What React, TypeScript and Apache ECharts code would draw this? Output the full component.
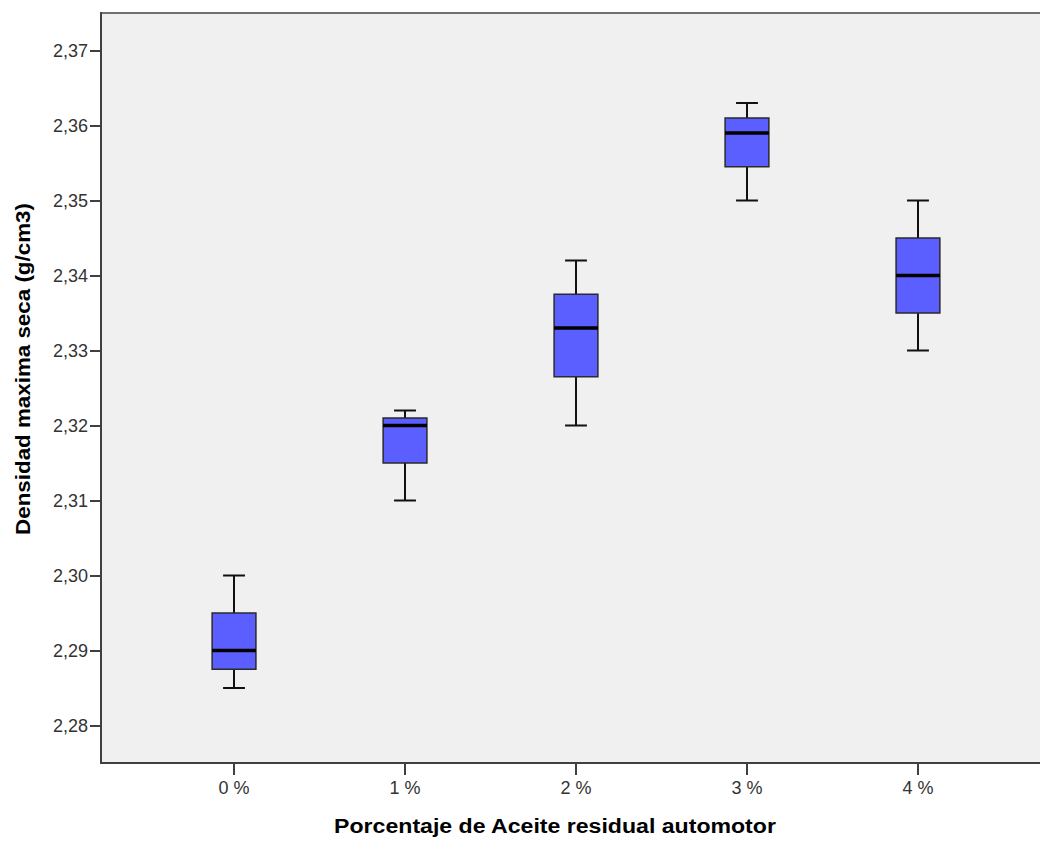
import React, { useEffect, useRef } from 'react';
import * as echarts from 'echarts';

const categories = ['0 %', '1 %', '2 %', '3 %', '4 %'];
const minValues = [2.285, 2.31, 2.32, 2.35, 2.33];
const q1Values = [2.2875, 2.315, 2.3265, 2.3545, 2.335];
const medianValues = [2.29, 2.32, 2.333, 2.359, 2.34];
const q3Values = [2.295, 2.321, 2.3375, 2.361, 2.345];
const maxValues = [2.3, 2.322, 2.342, 2.363, 2.35];
const yTicks = [2.28, 2.29, 2.3, 2.31, 2.32, 2.33, 2.34, 2.35, 2.36, 2.37];
const xTitle = 'Porcentaje de Aceite residual automotor';
const yTitle = 'Densidad maxima seca (g/cm3)';

const FONT = '"Liberation Sans", Arial, sans-serif';

export default function App() {
  const ref = useRef<HTMLDivElement>(null);

  useEffect(() => {
    if (!ref.current) return;
    const chart = echarts.init(ref.current, undefined, { renderer: 'svg' });
    const data = categories.map((_, i) => [
      i,
      minValues[i],
      q1Values[i],
      medianValues[i],
      q3Values[i],
      maxValues[i],
    ]);

    const option: any = {
      animation: false,
      backgroundColor: '#ffffff',
      grid: {
        left: 101,
        top: 13,
        right: -11,
        bottom: 80,
        show: true,
        backgroundColor: '#f0f0f0',
        borderColor: '#707070',
        borderWidth: 2,
        containLabel: false,
        outerBoundsMode: 'none',
      },
      xAxis: {
        type: 'value',
        min: -0.778,
        max: 4.778,
        splitLine: { show: false },
        axisLine: { show: true, onZero: false, lineStyle: { color: '#404040', width: 2 } },
        axisTick: {
          show: true,
          length: 12,
          customValues: [0, 1, 2, 3, 4],
          lineStyle: { color: '#404040', width: 2 },
        },
        axisLabel: {
          show: true,
          customValues: [0, 1, 2, 3, 4],
          margin: 16,
          fontSize: 18,
          fontFamily: FONT,
          color: '#333333',
          formatter: (v: number) => categories[Math.round(v)] ?? '',
        },
      },
      yAxis: {
        type: 'value',
        min: 2.275,
        max: 2.375,
        splitLine: { show: false },
        axisLine: { show: true, onZero: false, lineStyle: { color: '#404040', width: 2 } },
        axisTick: {
          show: true,
          length: 11,
          customValues: yTicks,
          lineStyle: { color: '#404040', width: 2 },
        },
        axisLabel: {
          show: true,
          customValues: yTicks,
          margin: 13,
          fontSize: 18,
          fontFamily: FONT,
          color: '#333333',
          formatter: (v: number) => v.toFixed(2).replace('.', ','),
        },
      },
      series: [
        {
          type: 'custom',
          data,
          encode: { x: 0, y: [1, 2, 3, 4, 5] },
          renderItem: (params: any, api: any) => {
            const i = api.value(0);
            const pMin = api.coord([i, api.value(1)]);
            const pQ1 = api.coord([i, api.value(2)]);
            const pMed = api.coord([i, api.value(3)]);
            const pQ3 = api.coord([i, api.value(4)]);
            const pMax = api.coord([i, api.value(5)]);
            const cx = pMin[0];
            const boxW = api.size([0.256, 0])[0];
            const capW = boxW / 2;
            const lineStyle = { stroke: '#111111', lineWidth: 2 };
            return {
              type: 'group',
              children: [
                { type: 'line', shape: { x1: cx, y1: pMax[1], x2: cx, y2: pQ3[1] }, style: lineStyle },
                { type: 'line', shape: { x1: cx, y1: pQ1[1], x2: cx, y2: pMin[1] }, style: lineStyle },
                { type: 'line', shape: { x1: cx - capW / 2, y1: pMax[1], x2: cx + capW / 2, y2: pMax[1] }, style: lineStyle },
                { type: 'line', shape: { x1: cx - capW / 2, y1: pMin[1], x2: cx + capW / 2, y2: pMin[1] }, style: lineStyle },
                {
                  type: 'rect',
                  shape: { x: cx - boxW / 2, y: pQ3[1], width: boxW, height: pQ1[1] - pQ3[1] },
                  style: { fill: '#5b5fff', stroke: '#2a2a2a', lineWidth: 1.5 },
                },
                {
                  type: 'line',
                  shape: { x1: cx - boxW / 2, y1: pMed[1], x2: cx + boxW / 2, y2: pMed[1] },
                  style: { stroke: '#000000', lineWidth: 3.5 },
                },
              ],
            };
          },
        },
      ],
      graphic: [
        {
          type: 'text',
          x: 555,
          y: 826,
          scaleX: 1.1,
          style: {
            text: xTitle,
            font: `bold 21px ${FONT}`,
            fill: '#000000',
            textAlign: 'center',
            textVerticalAlign: 'middle',
            align: 'center',
            verticalAlign: 'middle',
          },
        },
        {
          type: 'text',
          x: 23,
          y: 369,
          rotation: Math.PI / 2,
          scaleX: 1.065,
          style: {
            text: yTitle,
            font: `bold 21px ${FONT}`,
            fill: '#000000',
            textAlign: 'center',
            textVerticalAlign: 'middle',
            align: 'center',
            verticalAlign: 'middle',
          },
        },
      ],
    };

    chart.setOption(option);
    return () => chart.dispose();
  }, []);

  return (
    <div
      ref={ref}
      style={{ position: 'absolute', left: 0, top: 0, width: 1040, height: 843 }}
    />
  );
}
